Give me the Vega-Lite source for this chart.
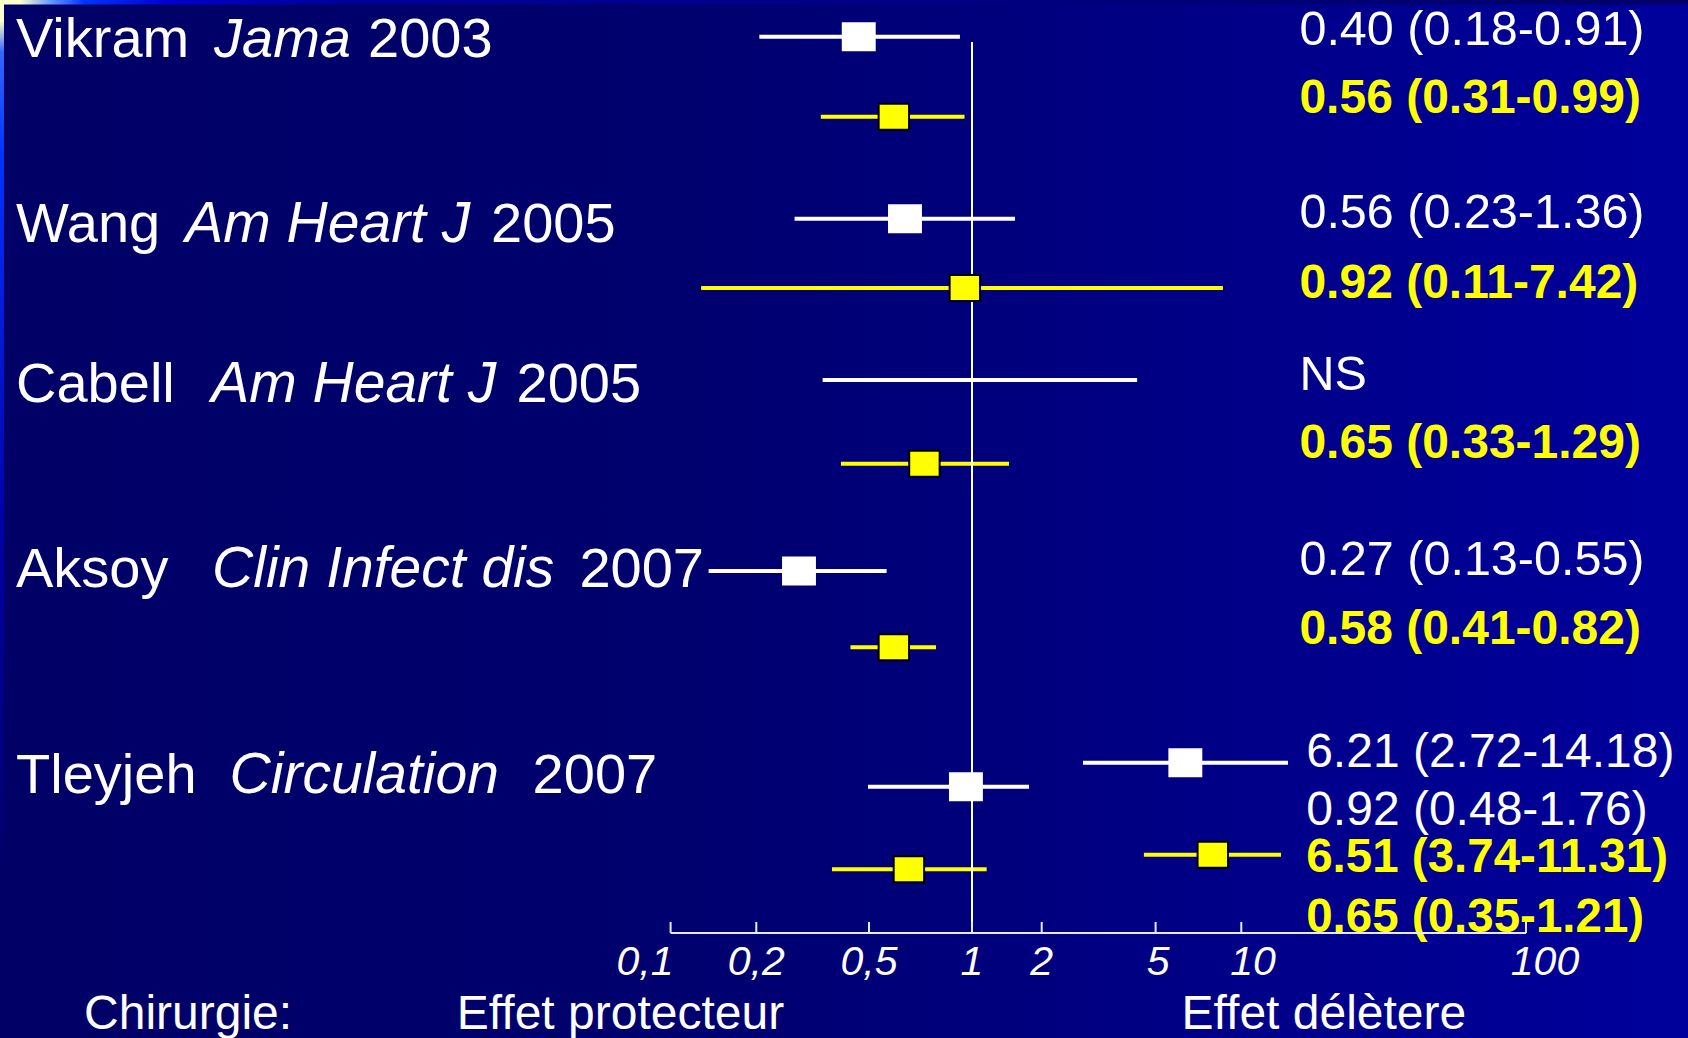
{
  "$schema": "https://vega.github.io/schema/vega-lite/v6.json",
  "width": 1688,
  "height": 1038,
  "autosize": {"type": "none"},
  "padding": 0,
  "background": "#000066",
  "config": {"view": {"stroke": null}, "axis": {"disable": true}, "legend": {"disable": true}},
  "datasets": {
    "estimates": [
      {"etude": "Vikram", "serie": "S1", "analyse": "a", "or": 0.46, "lo": 0.205, "hi": 0.922, "row": 3.67},
      {"etude": "Vikram", "serie": "S2", "analyse": "a", "or": 0.591, "lo": 0.338, "hi": 0.951, "row": 11.67},
      {"etude": "Wang", "serie": "S1", "analyse": "a", "or": 0.637, "lo": 0.273, "hi": 1.534, "row": 21.87},
      {"etude": "Wang", "serie": "S2", "analyse": "a", "or": 0.953, "lo": 0.128, "hi": 8.62, "row": 28.8},
      {"etude": "Cabell", "serie": "S1", "analyse": "a", "or": null, "lo": 0.343, "hi": 4.31, "row": 38.0},
      {"etude": "Cabell", "serie": "S2", "analyse": "a", "or": 0.726, "lo": 0.398, "hi": 1.445, "row": 46.37},
      {"etude": "Aksoy", "serie": "S1", "analyse": "a", "or": 0.283, "lo": 0.136, "hi": 0.563, "row": 57.1},
      {"etude": "Aksoy", "serie": "S2", "analyse": "a", "or": 0.591, "lo": 0.43, "hi": 0.785, "row": 64.73},
      {"etude": "Tleyjeh", "serie": "S1", "analyse": "a", "or": 6.36, "lo": 2.788, "hi": 14.59, "row": 76.27},
      {"etude": "Tleyjeh", "serie": "S1", "analyse": "b", "or": 0.96, "lo": 0.496, "hi": 1.763, "row": 78.67},
      {"etude": "Tleyjeh", "serie": "S2", "analyse": "a", "or": 7.94, "lo": 4.55, "hi": 13.79, "row": 85.47},
      {"etude": "Tleyjeh", "serie": "S2", "analyse": "b", "or": 0.654, "lo": 0.37, "hi": 1.157, "row": 86.93}
    ],
    "labels": [
      {"etude": "Vikram", "serie": "S1", "texte": "0.40 (0.18-0.91)", "row": 4.5},
      {"etude": "Vikram", "serie": "S2", "texte": "0.56 (0.31-0.99)", "row": 11.33},
      {"etude": "Wang", "serie": "S1", "texte": "0.56 (0.23-1.36)", "row": 22.83},
      {"etude": "Wang", "serie": "S2", "texte": "0.92 (0.11-7.42)", "row": 29.83},
      {"etude": "Cabell", "serie": "S1", "texte": "NS", "row": 39.0},
      {"etude": "Cabell", "serie": "S2", "texte": "0.65 (0.33-1.29)", "row": 45.83},
      {"etude": "Aksoy", "serie": "S1", "texte": "0.27 (0.13-0.55)", "row": 57.5},
      {"etude": "Aksoy", "serie": "S2", "texte": "0.58 (0.41-0.82)", "row": 64.43},
      {"etude": "Tleyjeh", "serie": "S1", "texte": "6.21 (2.72-14.18)", "row": 76.67},
      {"etude": "Tleyjeh", "serie": "S1", "texte": "0.92 (0.48-1.76)", "row": 82.5},
      {"etude": "Tleyjeh", "serie": "S2", "texte": "6.51 (3.74-11.31)", "row": 87.17},
      {"etude": "Tleyjeh", "serie": "S2", "texte": "0.65 (0.35-1.21)", "row": 93.2}
    ],
    "studies": [
      {"auteur": "Vikram", "revue": "Jama", "annee": "2003", "row": 5.67},
      {"auteur": "Wang", "revue": "Am Heart J", "annee": "2005", "row": 24.17},
      {"auteur": "Cabell", "revue": "Am Heart J", "annee": "2005", "row": 40.17},
      {"auteur": "Aksoy", "revue": "Clin Infect dis", "annee": "2007", "row": 58.67},
      {"auteur": "Tleyjeh", "revue": "Circulation", "annee": "2007", "row": 79.33}
    ],
    "ticks": [
      {"v": 0.1, "label": "0,1", "at": 0.0916},
      {"v": 0.2, "label": "0,2", "at": 0.2},
      {"v": 0.5, "label": "0,5", "at": 0.5},
      {"v": 1, "label": "1", "at": 1},
      {"v": 2, "label": "2", "at": 2},
      {"v": 5, "label": "5", "at": 5.1},
      {"v": 10, "label": "10", "at": 11.0},
      {"v": 100, "label": "100", "at": 131}
    ],
    "bottom": [
      {"texte": "Chirurgie:", "at": 0.013344},
      {"texte": "Effet protecteur", "at": 0.048},
      {"texte": "Effet délètere", "at": 6.17}
    ]
  },
  "layer": [
    {
      "data": {"values": [{}]},
      "mark": {"type": "rect", "color": {"gradient": "linear", "x1": 0, "x2": 1, "y1": 0, "y2": 0, "stops": [{"offset": 0, "color": "#000066"}, {"offset": 0.4, "color": "#00006e"}, {"offset": 1, "color": "#00009c"}]}},
      "encoding": {
        "x": {"datum": 0.01, "type": "quantitative", "scale": {"type": "log", "domain": [0.01, 0.1, 0.2, 0.5, 1, 2, 5, 10, 100, 1000], "range": [0, 670.6, 756.3, 869, 972, 1041.7, 1155.6, 1241.3, 1526, 1688], "nice": false}},
        "x2": {"datum": 1000},
        "y": {"datum": 0, "type": "quantitative", "scale": {"type": "linear", "domain": [0, 103.8], "range": [0, 1038], "nice": false, "zero": false}},
        "y2": {"datum": 103.8}
      }
    },
    {
      "data": {"values": [{}]},
      "mark": {"type": "rect", "color": {"gradient": "linear", "x1": 0, "x2": 1, "y1": 0, "y2": 0, "stops": [{"offset": 0, "color": "#ffffcc"}, {"offset": 0.012, "color": "#ffffcc"}, {"offset": 0.03, "color": "#6699ff"}, {"offset": 0.05, "color": "#0033ff"}, {"offset": 0.1, "color": "#0000cc"}, {"offset": 0.2, "color": "#000099"}, {"offset": 1, "color": "#000066"}]}},
      "encoding": {
        "x": {"datum": 0.01, "type": "quantitative"},
        "x2": {"datum": 1000},
        "y": {"datum": 0, "type": "quantitative"},
        "y2": {"datum": 0.45}
      }
    },
    {
      "data": {"values": [{}]},
      "mark": {"type": "rect", "color": {"gradient": "linear", "x1": 0, "x2": 0, "y1": 0, "y2": 1, "stops": [{"offset": 0, "color": "#ffffcc"}, {"offset": 0.02, "color": "#ffffcc"}, {"offset": 0.05, "color": "#3366ff"}, {"offset": 0.15, "color": "#0033ff"}, {"offset": 0.5, "color": "#0000aa"}, {"offset": 0.85, "color": "#000066"}, {"offset": 1, "color": "#000066"}]}},
      "encoding": {
        "x": {"datum": 0.01, "type": "quantitative"},
        "x2": {"datum": 0.010138},
        "y": {"datum": 0, "type": "quantitative"},
        "y2": {"datum": 103.8}
      }
    },
    {
      "data": {"name": "estimates"},
      "mark": {"type": "rule", "strokeWidth": 4},
      "encoding": {
        "x": {"field": "lo", "type": "quantitative"},
        "x2": {"field": "hi"},
        "y": {"field": "row", "type": "quantitative"},
        "color": {"field": "serie", "type": "nominal", "scale": {"domain": ["S1", "S2"], "range": ["#ffffff", "#ffff00"]}, "legend": null}
      }
    },
    {
      "data": {"values": [{"reference": 1}]},
      "mark": {"type": "rule", "strokeWidth": 2, "color": "#ffffff"},
      "encoding": {
        "x": {"field": "reference", "type": "quantitative"},
        "y": {"datum": 4.2, "type": "quantitative"},
        "y2": {"datum": 92.93}
      }
    },
    {
      "data": {"name": "estimates"},
      "transform": [{"filter": "datum.serie == 'S1' && datum.or != null"}],
      "mark": {"type": "point", "shape": "M-1.17,-1L1.17,-1L1.17,1L-1.17,1Z", "filled": true, "size": 841, "fill": "#ffffff", "stroke": null, "opacity": 1},
      "encoding": {
        "x": {"field": "or", "type": "quantitative"},
        "y": {"field": "row", "type": "quantitative"}
      }
    },
    {
      "data": {"name": "estimates"},
      "transform": [{"filter": "datum.serie == 'S2' && datum.or != null"}],
      "mark": {"type": "point", "shape": "M-1.17,-1L1.17,-1L1.17,1L-1.17,1Z", "filled": true, "size": 676, "fill": "#ffff00", "stroke": "#000000", "strokeWidth": 2, "opacity": 1},
      "encoding": {
        "x": {"field": "or", "type": "quantitative"},
        "y": {"field": "row", "type": "quantitative"}
      }
    },
    {
      "data": {"name": "studies"},
      "mark": {"type": "text", "font": "Liberation Sans", "fontSize": 56, "color": "#ffffff", "align": "left", "baseline": "alphabetic"},
      "encoding": {
        "x": {"datum": 0.010565, "type": "quantitative"},
        "y": {"field": "row", "type": "quantitative"},
        "text": {"field": "auteur"}
      }
    },
    {
      "data": {"name": "studies"},
      "transform": [{"filter": "datum.auteur == 'Vikram'"}],
      "layer": [
        {"mark": {"type": "text", "font": "Liberation Sans", "fontStyle": "italic", "fontSize": 56, "color": "#ffffff", "align": "left", "baseline": "alphabetic"},
         "encoding": {"x": {"datum": 0.020852, "type": "quantitative"}, "y": {"field": "row", "type": "quantitative"}, "text": {"field": "revue"}}},
        {"mark": {"type": "text", "font": "Liberation Sans", "fontSize": 56, "color": "#ffffff", "align": "left", "baseline": "alphabetic"},
         "encoding": {"x": {"datum": 0.035384, "type": "quantitative"}, "y": {"field": "row", "type": "quantitative"}, "text": {"field": "annee"}}}
      ]
    },
    {
      "data": {"name": "studies"},
      "transform": [{"filter": "datum.auteur == 'Wang'"}],
      "layer": [
        {"mark": {"type": "text", "font": "Liberation Sans", "fontStyle": "italic", "fontSize": 57, "color": "#ffffff", "align": "left", "baseline": "alphabetic"},
         "encoding": {"x": {"datum": 0.01889, "type": "quantitative"}, "y": {"field": "row", "type": "quantitative"}, "text": {"field": "revue"}}},
        {"mark": {"type": "text", "font": "Liberation Sans", "fontSize": 56, "color": "#ffffff", "align": "left", "baseline": "alphabetic"},
         "encoding": {"x": {"datum": 0.05397, "type": "quantitative"}, "y": {"field": "row", "type": "quantitative"}, "text": {"field": "annee"}}}
      ]
    },
    {
      "data": {"name": "studies"},
      "transform": [{"filter": "datum.auteur == 'Cabell'"}],
      "layer": [
        {"mark": {"type": "text", "font": "Liberation Sans", "fontStyle": "italic", "fontSize": 57, "color": "#ffffff", "align": "left", "baseline": "alphabetic"},
         "encoding": {"x": {"datum": 0.020652, "type": "quantitative"}, "y": {"field": "row", "type": "quantitative"}, "text": {"field": "revue"}}},
        {"mark": {"type": "text", "font": "Liberation Sans", "fontSize": 56, "color": "#ffffff", "align": "left", "baseline": "alphabetic"},
         "encoding": {"x": {"datum": 0.058918, "type": "quantitative"}, "y": {"field": "row", "type": "quantitative"}, "text": {"field": "annee"}}}
      ]
    },
    {
      "data": {"name": "studies"},
      "transform": [{"filter": "datum.auteur == 'Aksoy'"}],
      "layer": [
        {"mark": {"type": "text", "font": "Liberation Sans", "fontStyle": "italic", "fontSize": 57, "color": "#ffffff", "align": "left", "baseline": "alphabetic"},
         "encoding": {"x": {"datum": 0.020716, "type": "quantitative"}, "y": {"field": "row", "type": "quantitative"}, "text": {"field": "revue"}}},
        {"mark": {"type": "text", "font": "Liberation Sans", "fontSize": 56, "color": "#ffffff", "align": "left", "baseline": "alphabetic"},
         "encoding": {"x": {"datum": 0.073114, "type": "quantitative"}, "y": {"field": "row", "type": "quantitative"}, "text": {"field": "annee"}}}
      ]
    },
    {
      "data": {"name": "studies"},
      "transform": [{"filter": "datum.auteur == 'Tleyjeh'"}],
      "layer": [
        {"mark": {"type": "text", "font": "Liberation Sans", "fontStyle": "italic", "fontSize": 57, "color": "#ffffff", "align": "left", "baseline": "alphabetic"},
         "encoding": {"x": {"datum": 0.021998, "type": "quantitative"}, "y": {"field": "row", "type": "quantitative"}, "text": {"field": "revue"}}},
        {"mark": {"type": "text", "font": "Liberation Sans", "fontSize": 56, "color": "#ffffff", "align": "left", "baseline": "alphabetic"},
         "encoding": {"x": {"datum": 0.062265, "type": "quantitative"}, "y": {"field": "row", "type": "quantitative"}, "text": {"field": "annee"}}}
      ]
    },
    {
      "data": {"name": "labels"},
      "transform": [{"filter": "datum.serie == 'S1' && datum.etude != 'Tleyjeh'"}],
      "mark": {"type": "text", "font": "Liberation Sans", "fontSize": 48.5, "color": "#ffffff", "align": "left", "baseline": "alphabetic"},
      "encoding": {"x": {"datum": 16.0, "type": "quantitative"}, "y": {"field": "row", "type": "quantitative"}, "text": {"field": "texte"}}
    },
    {
      "data": {"name": "labels"},
      "transform": [{"filter": "datum.serie == 'S1' && datum.etude == 'Tleyjeh'"}],
      "mark": {"type": "text", "font": "Liberation Sans", "fontSize": 48, "color": "#ffffff", "align": "left", "baseline": "alphabetic"},
      "encoding": {"x": {"datum": 16.9, "type": "quantitative"}, "y": {"field": "row", "type": "quantitative"}, "text": {"field": "texte"}}
    },
    {
      "data": {"name": "labels"},
      "transform": [{"filter": "datum.serie == 'S2' && datum.etude != 'Tleyjeh'"}],
      "mark": {"type": "text", "font": "Liberation Sans", "fontSize": 48, "fontWeight": "bold", "color": "#ffff00", "align": "left", "baseline": "alphabetic"},
      "encoding": {"x": {"datum": 16.0, "type": "quantitative"}, "y": {"field": "row", "type": "quantitative"}, "text": {"field": "texte"}}
    },
    {
      "data": {"name": "labels"},
      "transform": [{"filter": "datum.serie == 'S2' && datum.etude == 'Tleyjeh'"}],
      "mark": {"type": "text", "font": "Liberation Sans", "fontSize": 47.5, "fontWeight": "bold", "color": "#ffff00", "align": "left", "baseline": "alphabetic"},
      "encoding": {"x": {"datum": 16.9, "type": "quantitative"}, "y": {"field": "row", "type": "quantitative"}, "text": {"field": "texte"}}
    },
    {
      "data": {"values": [{"from": 0.1, "to": 100}]},
      "mark": {"type": "rule", "strokeWidth": 2, "color": "#e8e8ff"},
      "encoding": {
        "x": {"field": "from", "type": "quantitative"},
        "x2": {"field": "to"},
        "y": {"datum": 93.3, "type": "quantitative"}
      }
    },
    {
      "data": {"name": "ticks"},
      "mark": {"type": "rule", "strokeWidth": 2, "color": "#e8e8ff"},
      "encoding": {
        "x": {"field": "v", "type": "quantitative"},
        "y": {"datum": 92.2, "type": "quantitative"},
        "y2": {"datum": 93.3}
      }
    },
    {
      "data": {"name": "ticks"},
      "mark": {"type": "text", "font": "Liberation Sans", "fontStyle": "italic", "fontSize": 41, "color": "#ffffff", "align": "center", "baseline": "alphabetic"},
      "encoding": {
        "x": {"field": "at", "type": "quantitative"},
        "y": {"datum": 97.5, "type": "quantitative"},
        "text": {"field": "label"}
      }
    },
    {
      "data": {"name": "bottom"},
      "mark": {"type": "text", "font": "Liberation Sans", "fontSize": 48, "color": "#ffffff", "align": "left", "baseline": "alphabetic"},
      "encoding": {
        "x": {"field": "at", "type": "quantitative"},
        "y": {"datum": 102.9, "type": "quantitative"},
        "text": {"field": "texte"}
      }
    }
  ]
}
